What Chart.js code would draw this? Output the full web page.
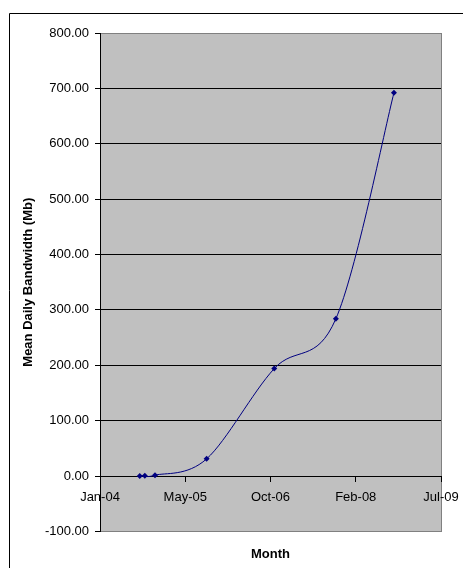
<!DOCTYPE html>
<html>
<head>
<meta charset="utf-8">
<script src="https://cdn.jsdelivr.net/npm/chart.js@4"></script>
<style>
  html, body { margin: 0; padding: 0; background: #fff; }
  canvas { display: block; }
</style>
</head>
<body>
<canvas id="bw" width="463" height="568"></canvas>
<script>
// mean daily bandwidth per sampled month
const months = ['2004-08-22', '2004-09-21', '2004-11-20', '2005-09-20', '2006-10-23', '2007-10-21', '2008-09-27'];
const bandwidth = [0.2, 0.5, 1.5, 31, 194, 284, 692];

const axisStart = '2004-01-01';
const axisEnd = '2009-07-01';
const monthLabels = ['Jan-04', 'May-05', 'Oct-06', 'Feb-08', 'Jul-09'];
const yTicks = [-100, 0, 100, 200, 300, 400, 500, 600, 700, 800];

const day = s => Date.UTC(+s.slice(0, 4), +s.slice(5, 7) - 1, +s.slice(8, 10)) / 86400000;
const xMin = day(axisStart), xMax = day(axisEnd);
const xTickValues = monthLabels.map((_, i) => xMin + i * (xMax - xMin) / (monthLabels.length - 1));

const font = { family: 'Arial, "Liberation Sans", sans-serif', size: 13 };
const boldFont = { ...font, weight: 'bold' };

// plot area fill + outer frame, like the spreadsheet chart
const frame = {
  id: 'frame',
  beforeDraw(chart) {
    const { ctx, chartArea: a } = chart;
    ctx.save();
    ctx.strokeStyle = '#000';
    ctx.lineWidth = 1;
    ctx.beginPath();
    ctx.moveTo(9.5, 568);
    ctx.lineTo(9.5, 13.5);
    ctx.lineTo(463, 13.5);
    ctx.stroke();
    ctx.fillStyle = '#c0c0c0';
    ctx.fillRect(a.left, a.top, a.right - a.left, a.bottom - a.top);
    ctx.strokeStyle = '#808080';
    ctx.strokeRect(Math.round(a.left) + 0.5, Math.round(a.top) + 0.5, Math.round(a.right - a.left), Math.round(a.bottom - a.top));
    ctx.restore();
  }
};

// excel-style smoothing: plain catmull-rom control points (1/6), no distance weighting
const excelSmooth = {
  id: 'excelSmooth',
  beforeDatasetsDraw(chart) {
    const meta = chart.getDatasetMeta(0);
    meta.dataset.updateControlPoints(chart.chartArea, 'x');
    const pts = meta.data;
    pts.forEach((p, i) => {
      const prev = pts[i - 1] || p, next = pts[i + 1] || p;
      const dx = (next.x - prev.x) / 6, dy = (next.y - prev.y) / 6;
      p.cp1x = p.x - dx; p.cp1y = p.y - dy;
      p.cp2x = p.x + dx; p.cp2y = p.y + dy;
    });
  }
};

new Chart(document.getElementById('bw').getContext('2d'), {
  type: 'scatter',
  data: {
    datasets: [{
      data: months.map((m, i) => ({ x: day(m), y: bandwidth[i] })),
      showLine: true,
      tension: 0.4,
      borderColor: '#000080',
      borderWidth: 1,
      backgroundColor: '#000080',
      pointStyle: 'rectRot',
      pointRadius: 3,
      pointBorderWidth: 0
    }]
  },
  options: {
    responsive: false,
    animation: false,
    layout: { padding: { left: 0, top: 33, right: 22, bottom: 0 } },
    scales: {
      x: {
        type: 'linear',
        position: { y: 0 },
        min: xMin,
        max: xMax,
        afterBuildTicks: s => { s.ticks = xTickValues.map(v => ({ value: v })); },
        afterFit: s => { s.paddingLeft = 0; s.paddingRight = 0; },
        ticks: {
          color: '#000',
          font,
          padding: 9,
          maxRotation: 0,
          callback: (v, i) => monthLabels[i]
        },
        grid: { drawOnChartArea: false, drawTicks: true, tickLength: 5, tickColor: '#000' },
        border: { color: '#000', width: 1 }
      },
      y: {
        min: -100,
        max: 800,
        afterBuildTicks: s => { s.ticks = yTicks.map(v => ({ value: v })); },
        afterFit: s => { s.width = 100; },
        ticks: {
          color: '#000',
          font,
          padding: 6,
          callback: v => v.toFixed(2)
        },
        grid: {
          color: c => (c.tick && (c.tick.value === 800 || c.tick.value === -100)) ? '#808080' : '#000',
          tickColor: '#000',
          tickLength: 5
        },
        border: { color: '#000', width: 1 },
        title: {
          display: true,
          text: 'Mean Daily Bandwidth (Mb)',
          color: '#000',
          font: boldFont,
          padding: { top: 21, bottom: 0 }
        }
      }
    },
    plugins: {
      legend: { display: false },
      tooltip: { enabled: false },
      title: {
        display: true,
        fullSize: false,
        position: 'bottom',
        text: 'Month',
        color: '#000',
        font: boldFont,
        padding: { top: 15, bottom: 6 }
      }
    }
  },
  plugins: [frame, excelSmooth]
});
</script>
</body>
</html>
